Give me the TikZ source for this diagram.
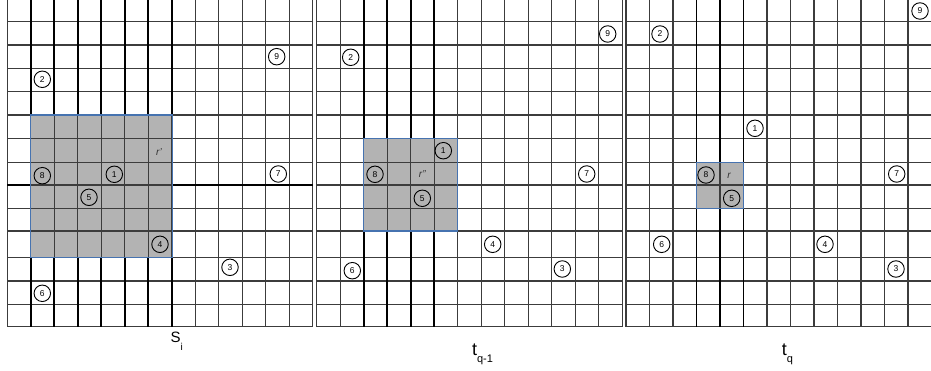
\documentclass[tikz,border=0pt]{standalone}
\usepackage{fontspec}
\setmainfont{Liberation Sans}
\usetikzlibrary{positioning}
\definecolor{cellgray}{HTML}{B3B3B3}
\definecolor{boxblue}{HTML}{4673B0}
\definecolor{gridgray}{HTML}{3C3C3C}

\begin{document}
\begin{tikzpicture}[x=1pt,y=-1pt,
  pt/.style={circle,draw,line width=0.9pt,inner sep=0pt,minimum size=16.5pt,font=\fontsize{8.5}{8.5}\selectfont},
  rlab/.style={font=\fontsize{10}{10}\selectfont\itshape,text=black!80},
  gridline/.style={gridgray,line width=1.1pt},
  boldline/.style={black,line width=1.9pt},
  window/.style={draw=boxblue,line width=1.2pt}]
\useasboundingbox (0,0) rectangle (931,371);
\clip (0,0) rectangle (931,371);

% shaded windows
\fill[cellgray] (30.8,115) rectangle (172.3,257.7);
\fill[cellgray] (363.7,138.3) rectangle (457.7,231);
\fill[cellgray] (696.5,162.3) rectangle (743.5,208.3);

% three grids, 13 columns each
\foreach \xo in {7.3,316.7,626}{
  \foreach \i in {0,...,13}
    \draw[gridline] ({\xo+\i*23.5},-3) -- ({\xo+\i*23.5},326.7);
  \foreach \y in {21.7,45,68.3,91.7,115,138.3,162.3,185,208.3,231,257.7,281,304.3,326.7}
    \draw[gridline] (\xo,\y) -- ({\xo+305.5},\y);
}

% bold lines outside the windows
\foreach \i in {1,...,7}{
  \draw[boldline] ({7.3+\i*23.5},-3) -- ({7.3+\i*23.5},115);
  \draw[boldline] ({7.3+\i*23.5},257.7) -- ({7.3+\i*23.5},326.7);
}
\draw[boldline] (7.3,185) -- (30.8,185);
\draw[boldline] (172.3,185) -- (313.3,185);
\foreach \i in {2,...,5}{
  \draw[boldline] ({316.7+\i*23.5},-3) -- ({316.7+\i*23.5},138.3);
  \draw[boldline] ({316.7+\i*23.5},231) -- ({316.7+\i*23.5},326.7);
}
\foreach \i in {3,4,5}{
  \draw[boldline] ({626+\i*23.5},-3) -- ({626+\i*23.5},162.3);
  \draw[boldline] ({626+\i*23.5},208.3) -- ({626+\i*23.5},326.7);
}

\draw[window] (30.8,115) rectangle (172.3,257.7);
\draw[window] (363.7,138.3) rectangle (457.7,231);
\draw[window] (696.5,162.3) rectangle (743.5,208.3);

% points in S_i
\foreach \n/\x/\y in {1/114.3/174.3,2/42.3/79.3,3/230/267.3,4/160/244.3,5/89/197.3,
                      6/42.3/293.3,7/278.3/174,8/42.3/175.7,9/276.7/56.7}
  \node[pt] (s\n) at (\x,\y) {\n};
% points in t_{q-1}
\foreach \n/\x/\y in {1/443.3/150.7,2/350.7/57.3,3/562.3/269,4/492.7/244.3,5/422.3/198.3,
                      6/352.3/270.7,7/586.7/174,8/375/174.3,9/607.7/34}
  \node[pt] (a\n) at (\x,\y) {\n};
% points in t_q
\foreach \n/\x/\y in {1/755/128.3,2/660/34,3/896/269,4/825/244.3,5/731.7/198.3,
                      6/661.7/244.3,7/896.7/174,8/706/175,9/920/11}
  \node[pt] (b\n) at (\x,\y) {\n};

\node[rlab] (rs) at (159,151.7) {r'};
\node[rlab] (ra) at (422.3,174.3) {r''};
\node[rlab] (rb) at (729,175.7) {r};

% panel names
\node[anchor=base west,inner sep=0pt,font=\fontsize{15}{15}\selectfont] (si) at (170.5,342.5)
  {S\raisebox{-7.5pt}{\fontsize{10}{10}\selectfont i}};
\node[anchor=base west,inner sep=0pt,font=\fontsize{18}{18}\selectfont] (tq1) at (471.8,355)
  {t\raisebox{-7pt}{\fontsize{11}{11}\selectfont q-1}};
\node[anchor=base west,inner sep=0pt,font=\fontsize{18}{18}\selectfont] (tq) at (781.7,355)
  {t\raisebox{-7pt}{\fontsize{11}{11}\selectfont q}};
\end{tikzpicture}
\end{document}
